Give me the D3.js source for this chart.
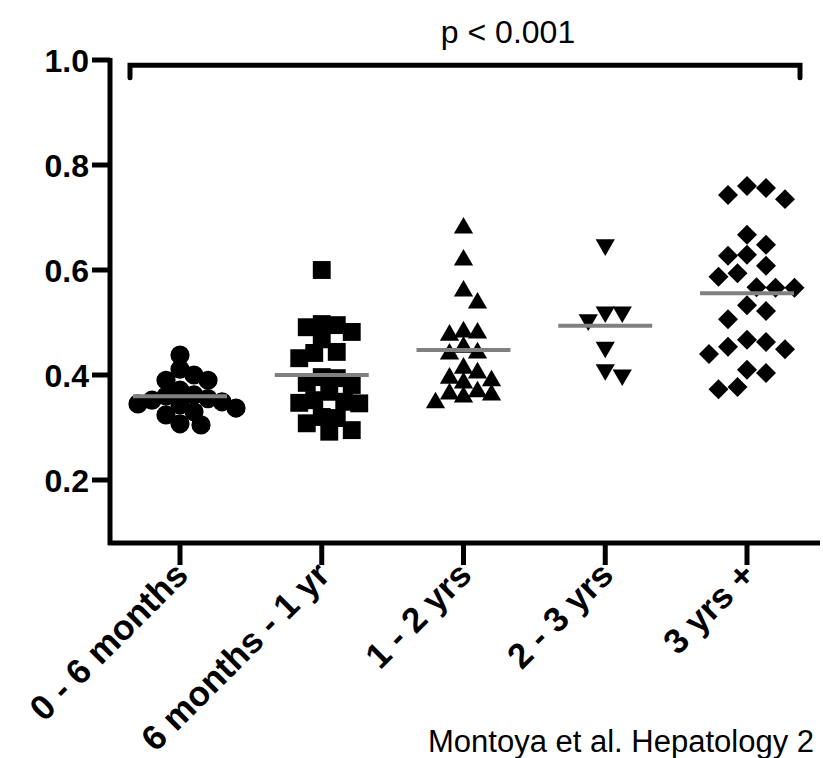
<!DOCTYPE html>
<meta charset="utf-8">
<title>Scatter by age group</title>
<script src="https://d3js.org/d3.v7.min.js"></script>
<style>
    body { margin: 0; background: #fff; }
    svg { display: block; font-family: Arial, "Liberation Sans", sans-serif; }
</style>
<body>
<div id="chart"></div>
<script>
    // values
    var categories = ["0 - 6 months", "6 months - 1 yr", "1 - 2 yrs", "2 - 3 yrs", "3 yrs +"];
    var months0to6 = [0.438, 0.400, 0.411, 0.390, 0.390, 0.371, 0.360, 0.362, 0.349, 0.352,
        0.337, 0.343, 0.324, 0.330, 0.305, 0.307, 0.345, 0.355];
    var months6to12 = [0.600, 0.495, 0.482, 0.491, 0.497, 0.468, 0.444, 0.442, 0.432, 0.385,
        0.396, 0.394, 0.381, 0.368, 0.346, 0.352, 0.349, 0.347, 0.318, 0.320, 0.308, 0.292, 0.295];
    var years1to2 = [0.680, 0.619, 0.560, 0.537, 0.482, 0.476, 0.480, 0.442, 0.440, 0.453,
        0.413, 0.404, 0.394, 0.389, 0.385, 0.368, 0.362, 0.358, 0.364, 0.347];
    var years2to3 = [0.648, 0.520, 0.505, 0.520, 0.453, 0.400, 0.410];
    var years3plus = [0.760, 0.743, 0.735, 0.756, 0.667, 0.648, 0.627, 0.608, 0.629, 0.594,
        0.587, 0.566, 0.567, 0.566, 0.533, 0.522, 0.506, 0.463, 0.449, 0.440, 0.454, 0.467,
        0.404, 0.410, 0.373, 0.377];
    var groups = [months0to6, months6to12, years1to2, years2to3, years3plus];
    var yTicks = [0.2, 0.4, 0.6, 0.8, 1.0];

    var width = 823, height = 758;

    var svg = d3.select("#chart").append("svg")
        .attr("width", width)
        .attr("height", height);

    var x = d3.scalePoint().domain(categories).range([180, 747]);
    var y = d3.scaleLinear().domain([0.08, 1.0]).range([543, 60]);

    // marker shapes per group (d = how close two markers may sit)
    var shapes = [
        { type: d3.symbolCircle, size: 290, rot: 0, d: 14 },
        { type: d3.symbolSquare, size: 320, rot: 0, d: 15 },
        { type: d3.symbolTriangle, size: 160, rot: 0, d: 14 },
        { type: d3.symbolTriangle, size: 160, rot: 180, d: 17 },
        { type: d3.symbolSquare, size: 200, rot: 45, d: 19 }
    ];

    // simple beeswarm: each point goes to the free slot closest to the centre
    function swarm(vals, d) {
        var step = d / 2;
        var pts = vals.map(function (v) { return { v: v, y: y(v) }; })
            .sort(function (a, b) { return b.v - a.v; });
        var placed = [];
        pts.forEach(function (p) {
            for (var i = 0; i < 40; i++) {
                var k = i === 0 ? 0 : (i % 2 ? (i + 1) / 2 : -i / 2);
                var ox = k * step;
                var ok = placed.every(function (q) {
                    var dx = ox - q.ox, dy = p.y - q.y;
                    return dx * dx + dy * dy >= d * d;
                });
                if (ok) { p.ox = ox; break; }
            }
            placed.push(p);
        });
        return placed;
    }

    // y axis
    var yAxis = svg.append("g");
    yAxis.append("line")
        .attr("x1", 110).attr("x2", 110)
        .attr("y1", y(1.0) - 2).attr("y2", y(0.08) + 2)
        .attr("stroke", "#000").attr("stroke-width", 5);
    yAxis.selectAll(".ytick").data(yTicks).enter().append("line")
        .attr("x1", 92).attr("x2", 110)
        .attr("y1", function (d) { return y(d); })
        .attr("y2", function (d) { return y(d); })
        .attr("stroke", "#000").attr("stroke-width", 5);
    yAxis.selectAll(".ylab").data(yTicks).enter().append("text")
        .attr("x", 89)
        .attr("y", function (d) { return y(d); })
        .attr("dy", "0.36em")
        .attr("text-anchor", "end")
        .attr("font-size", 32)
        .attr("font-weight", "bold")
        .text(function (d) { return d.toFixed(1); });

    // x axis
    var xAxis = svg.append("g");
    xAxis.append("line")
        .attr("x1", 108).attr("x2", 820)
        .attr("y1", y(0.08)).attr("y2", y(0.08))
        .attr("stroke", "#000").attr("stroke-width", 5);
    xAxis.selectAll(".xtick").data(categories).enter().append("line")
        .attr("x1", function (d) { return x(d); })
        .attr("x2", function (d) { return x(d); })
        .attr("y1", y(0.08)).attr("y2", y(0.08) + 22)
        .attr("stroke", "#000").attr("stroke-width", 5);
    xAxis.selectAll(".xlab").data(categories).enter().append("text")
        .attr("transform", function (d) { return "translate(" + (x(d) + 10) + "," + 577 + ") rotate(-45)"; })
        .attr("text-anchor", "end")
        .attr("font-size", 35)
        .attr("font-weight", "bold")
        .text(function (d) { return d; });

    // points and mean lines
    groups.forEach(function (vals, gi) {
        var s = shapes[gi];
        var cx = x(categories[gi]);
        var sym = d3.symbol().type(s.type).size(s.size);
        var pts = swarm(vals, s.d);
        svg.append("g").selectAll("path").data(pts).enter().append("path")
            .attr("d", sym)
            .attr("transform", function (p) {
                return "translate(" + (cx + p.ox) + "," + p.y + ") rotate(" + s.rot + ")";
            })
            .attr("fill", "#000");
        var m = d3.mean(vals);
        svg.append("line")
            .attr("x1", cx - 47).attr("x2", cx + 47)
            .attr("y1", y(m)).attr("y2", y(m))
            .attr("stroke", "#808080").attr("stroke-width", 4);
    });

    // significance bracket
    var bx0 = x(categories[0]) - 50, bx1 = x(categories[4]) + 53;
    svg.append("path")
        .attr("d", "M" + bx0 + "," + y(0.966) + "V" + y(0.99) + "H" + bx1 + "V" + y(0.966))
        .attr("fill", "none")
        .attr("stroke", "#000")
        .attr("stroke-width", 5)
        .attr("stroke-linecap", "round");
    svg.append("text")
        .attr("x", 508).attr("y", 43)
        .attr("text-anchor", "middle")
        .attr("font-size", 32)
        .text("p < 0.001");

    svg.append("text")
        .attr("x", 428).attr("y", 752)
        .attr("font-size", 31)
        .text("Montoya et al. Hepatology 2");
</script>
</body>
